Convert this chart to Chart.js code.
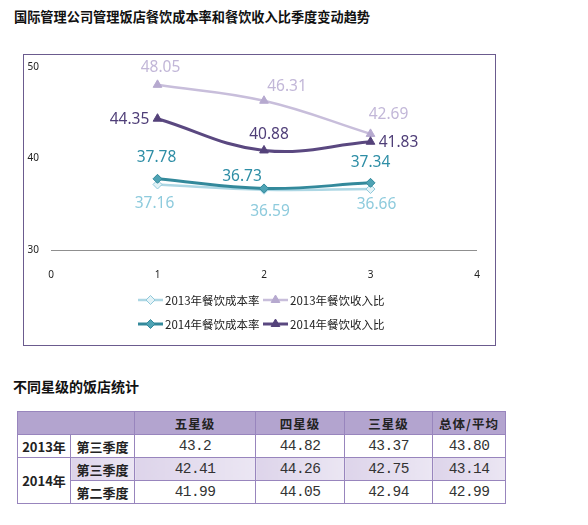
<!DOCTYPE html>
<html>
<head>
<meta charset="utf-8">
<script src="https://cdn.jsdelivr.net/npm/chart.js@4.4.1/dist/chart.umd.min.js"></script>
<style>
  body { margin: 0; background: #fff; font-family: "Noto Sans CJK SC", sans-serif; }
  #title { position: absolute; left: 14px; top: 7px; font-size: 13.2px; font-weight: bold; color: #111; white-space: nowrap; }
  #box { position: absolute; left: 23px; top: 54px; width: 473px; height: 292px; box-sizing: border-box; border: 1px solid #6b5b8e; }
  #box canvas { position: absolute; left: 0; top: 0; }
  #subtitle { position: absolute; left: 13px; top: 376px; font-size: 14px; font-weight: bold; color: #111; white-space: nowrap; }
  table { position: absolute; left: 17px; top: 411px; border-collapse: collapse; table-layout: fixed; width: 488px; }
  td { border: 1px solid #9885bd; padding: 0; text-align: center; height: 22px; color: #333; }
  tr.head td { background: #b3a4cf; font-weight: bold; font-size: 12.5px; letter-spacing: 1px; color: #222; height: 22px; }
  td.diag { background: linear-gradient(to top right, #b3a4cf calc(50% - 0.8px), #7a66a6 50%, #b3a4cf calc(50% + 0.8px)); }
  td.lab { font-weight: bold; font-size: 13px; color: #222; }
  td.num { font-family: "Liberation Mono", monospace; font-size: 14.5px; letter-spacing: -0.6px; }
  tr.alt td.shade { background: linear-gradient(to right, #ddd4ea, #ebe6f3); }
</style>
</head>
<body>
<div id="title">国际管理公司管理饭店餐饮成本率和餐饮收入比季度变动趋势</div>
<div id="box"><canvas id="chart" width="471" height="290"></canvas></div>
<div id="subtitle">不同星级的饭店统计</div>
<table id="stats"></table>
<script>
// quarters on the x axis
const quarters = [1, 2, 3];
const seriesNames = ['2013年餐饮成本率', '2013年餐饮收入比', '2014年餐饮成本率', '2014年餐饮收入比'];
const cost2013 = [37.16, 36.59, 36.66];
const revenue2013 = [48.05, 46.31, 42.69];
const cost2014 = [37.78, 36.73, 37.34];
const revenue2014 = [44.35, 40.88, 41.83];

// table data
const starColumns = ['五星级', '四星级', '三星级', '总体/平均'];
const rowYears = ['2013年', '2014年', '2014年'];
const rowQuarters = ['第三季度', '第三季度', '第二季度'];
const tableValues = [
  ['43.2', '44.82', '43.37', '43.80'],
  ['42.41', '44.26', '42.75', '43.14'],
  ['41.99', '44.05', '42.94', '42.99']
];

function points(values) {
  return values.map((v, i) => ({ x: quarters[i], y: v }));
}

const styles = [
  { line: '#add7e4', fill: '#e4f3f7', border: '#8fc8da', label: '#8ecbdd', shape: 'rectRot', radius: 4.5, width: 2.5,
    offsets: [[-3, 19], [6, 22], [6, 16]] },
  { line: '#c8bedb', fill: '#b6a9cf', border: '#b6a9cf', label: '#c2b7d8', shape: 'triangle', radius: 5, width: 2.5,
    offsets: [[3, -17], [23, -14], [18, -19]] },
  { line: '#33899b', fill: '#4ea3b4', border: '#33899b', label: '#2e8ea6', shape: 'rectRot', radius: 4.5, width: 3,
    offsets: [[-1, -21], [-22, -12], [0, -20]] },
  { line: '#5a4880', fill: '#54427a', border: '#54427a', label: '#4f3e78', shape: 'triangle', radius: 5, width: 3,
    offsets: [[-28, 1], [5, -16], [28, 1]] }
];

const allValues = [cost2013, revenue2013, cost2014, revenue2014];
const datasets = allValues.map((vals, i) => ({
  label: seriesNames[i],
  data: points(vals),
  borderColor: styles[i].line,
  borderWidth: styles[i].width,
  pointStyle: styles[i].shape,
  pointRadius: styles[i].radius,
  pointBackgroundColor: styles[i].fill,
  pointBorderColor: styles[i].border,
  pointBorderWidth: 1,
  tension: 0.4,
  fill: false
}));

// draw order: 2013 lines under 2014 lines
datasets[0].order = 4;
datasets[1].order = 3;
datasets[2].order = 2;
datasets[3].order = 1;

const valueLabels = {
  id: 'valueLabels',
  afterDatasetsDraw(chart) {
    const ctx = chart.ctx;
    ctx.save();
    ctx.font = '15.5px "Noto Sans", sans-serif';
    ctx.textAlign = 'center';
    ctx.textBaseline = 'middle';
    chart.data.datasets.forEach((ds, i) => {
      const meta = chart.getDatasetMeta(i);
      meta.data.forEach((pt, j) => {
        const off = styles[i].offsets[j];
        ctx.fillStyle = styles[i].label;
        ctx.fillText(ds.data[j].y.toFixed(2), pt.x + off[0], pt.y + off[1]);
      });
    });
    ctx.restore();
  }
};

const legendBox = {
  id: 'legendBox',
  afterDraw(chart) {
    const ctx = chart.ctx;
    const cols = [114, 239];
    const rows = [245, 269];
    ctx.save();
    ctx.font = '11.5px "Noto Sans CJK SC", sans-serif';
    ctx.textBaseline = 'middle';
    ctx.textAlign = 'left';
    chart.data.datasets.forEach((ds, i) => {
      const x = cols[i % 2];
      const y = rows[Math.floor(i / 2)];
      const st = styles[i];
      ctx.strokeStyle = st.line;
      ctx.lineWidth = st.width;
      ctx.beginPath();
      ctx.moveTo(x, y);
      ctx.lineTo(x + 25, y);
      ctx.stroke();
      ctx.fillStyle = st.fill;
      ctx.strokeStyle = st.border;
      ctx.lineWidth = 1;
      Chart.helpers.drawPoint(ctx, { pointStyle: st.shape, radius: st.radius, borderWidth: 1 }, x + 12.5, y);
      ctx.fillStyle = '#222';
      ctx.fillText(ds.label, x + 27, y + 0.5);
    });
    ctx.restore();
  }
};

new Chart(document.getElementById('chart'), {
  type: 'line',
  data: { datasets: datasets },
  options: {
    responsive: false,
    animation: false,
    layout: { padding: { top: 12, right: 18, bottom: 65, left: 0 } },
    plugins: { legend: { display: false }, tooltip: { enabled: false } },
    scales: {
      x: {
        type: 'linear',
        min: 0,
        max: 4,
        ticks: { stepSize: 1, padding: 11, color: '#222', font: { size: 10, family: 'Noto Sans' } },
        grid: { display: false },
        border: { display: false },
        afterFit(s) { s.height = 30; }
      },
      y: {
        min: 30,
        max: 50,
        ticks: { stepSize: 10, padding: 3, color: '#222', font: { size: 10, family: 'Noto Sans' } },
        grid: {
          drawTicks: true,
          tickLength: 9,
          tickColor: 'rgba(0,0,0,0)',
          color: c => (c.tick && c.tick.value === 30 ? '#8f8f8f' : 'rgba(0,0,0,0)'),
          lineWidth: 1
        },
        border: { display: false },
        afterFit(s) { s.width = 27; }
      }
    }
  },
  plugins: [valueLabels, legendBox]
});

// build the table
const table = document.getElementById('stats');
let html = '<colgroup><col style="width:53px"><col style="width:64px"><col style="width:121px">' +
  '<col style="width:89px"><col style="width:88px"><col style="width:73px"></colgroup>';
html += '<tr class="head"><td class="diag" colspan="2"></td>' + starColumns.map(c => '<td>' + c + '</td>').join('') + '</tr>';
tableValues.forEach((row, r) => {
  html += '<tr' + (r === 1 ? ' class="alt"' : '') + '>';
  if (r === 0) html += '<td class="lab">' + rowYears[r] + '</td>';
  if (r === 1) html += '<td class="lab" rowspan="2">' + rowYears[r] + '</td>';
  html += '<td class="lab shade">' + rowQuarters[r] + '</td>';
  html += row.map(v => '<td class="num shade">' + v + '</td>').join('');
  html += '</tr>';
});
table.innerHTML = html;
</script>
</body>
</html>
